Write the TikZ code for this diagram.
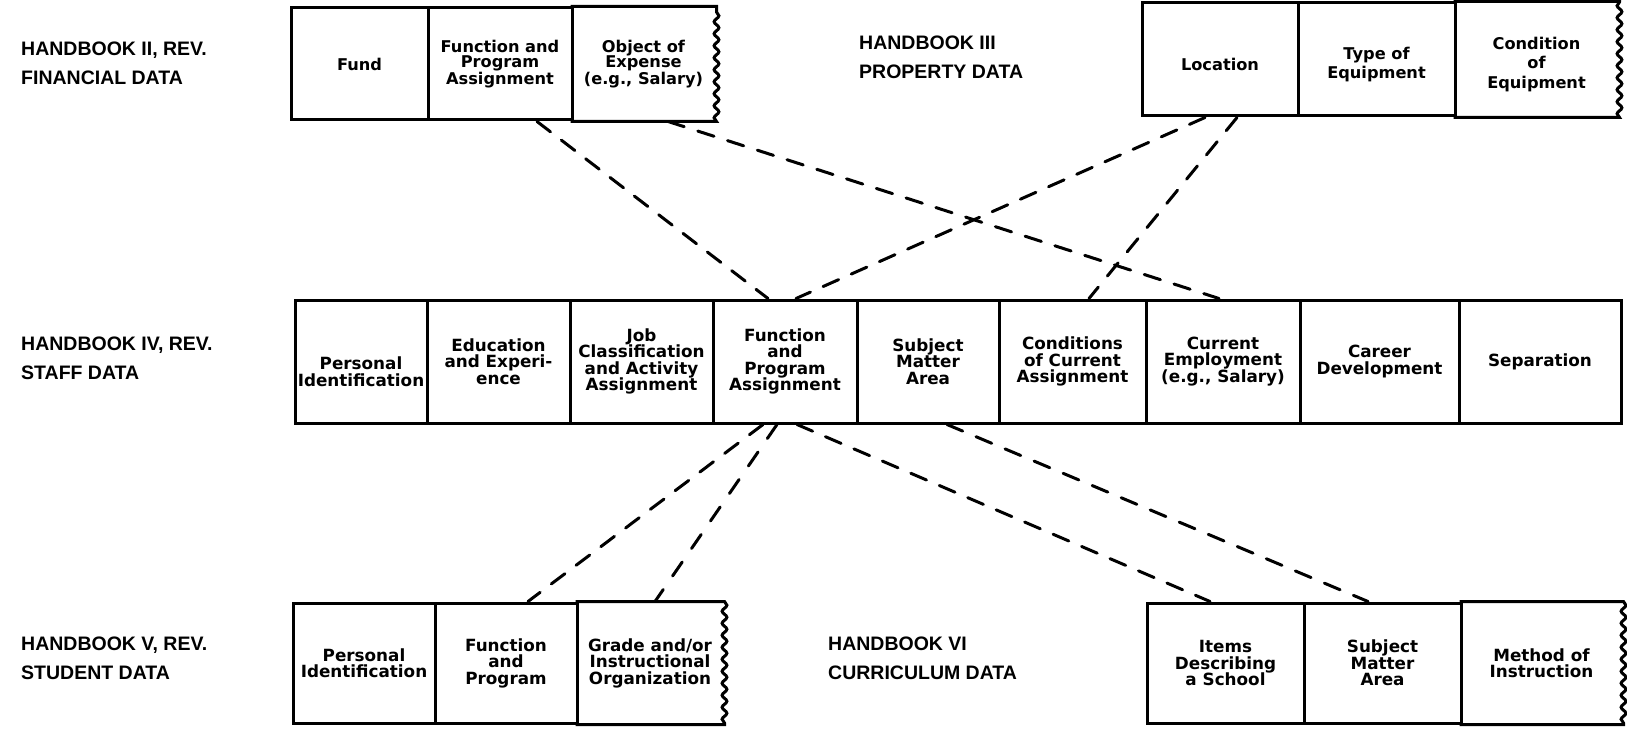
\documentclass[tikz,border=0pt]{standalone}
\usepackage{fontspec}
\setmainfont{DejaVu Sans}
\newfontfamily\labfont{Liberation Sans}
\usetikzlibrary{decorations.pathmorphing}
\newcommand\cellfontA{\bfseries\fontsize{16.2}{15.5}\selectfont}
\newcommand\cellfontC{\bfseries\fontsize{16.2}{19.5}\selectfont}
\newcommand\cellfontB{\bfseries\fontsize{16.8}{16.5}\selectfont}
\tikzset{
  cellbox/.style={draw, line width=3pt, inner sep=0pt, align=center},
  topcell/.style={cellbox, font=\cellfontA},
  midcell/.style={cellbox, font=\cellfontB},
  opencell/.style={draw=none},
  celltext/.style={inner sep=0pt, align=center},
  lab/.style={anchor=west, align=left, inner sep=0pt, font=\labfont\bfseries\fontsize{19.5}{29}\selectfont},
  link/.style={line width=3pt, line cap=round, dash pattern=on 17pt off #1pt},
  edge/.style={line width=3pt},
  wavy/.style={decorate, decoration={snake, amplitude=2.4pt, segment length=12pt}}
}
\begin{document}
\begin{tikzpicture}[x=1pt,y=-1pt]
\useasboundingbox[fill=white] (0,0) rectangle (1627,730);

% labels
\node[lab] (lab2) at (21,63.5) {HANDBOOK II, REV.\\FINANCIAL DATA};
\node[lab] (lab3) at (859,57) {HANDBOOK III\\PROPERTY DATA};
\node[lab] (lab4) at (21,358) {HANDBOOK IV, REV.\\STAFF DATA};
\node[lab] (lab5) at (21,658.5) {HANDBOOK V, REV.\\STUDENT DATA};
\node[lab] (lab6) at (828,658.5) {HANDBOOK VI\\CURRICULUM DATA};

% top-left row (financial)
\node[topcell, minimum width=137pt, minimum height=112pt] (tfund) at (359.5,64) {Fund};
\node[topcell, minimum width=144pt, minimum height=112pt] (tfp) at (500,64) {Function and\\Program\\Assignment};
\node[topcell, opencell, minimum width=143pt, minimum height=112pt] (tobj) at (643.5,64) {Object of\\Expense\\(e.g., Salary)};
\draw[edge] (tobj.south west) -- (tobj.south east) decorate[wavy]{-- (tobj.north east)} -- (tobj.north west);

% top-right row (property)
\node[topcell, minimum width=156pt, minimum height=113pt] (tloc) at (1220,59.5) {};
\node[topcell, minimum width=157pt, minimum height=113pt] (ttype) at (1376.5,59.5) {};
\node[topcell, opencell, minimum width=163pt, minimum height=113pt] (tcond) at (1536.5,59.5) {};
\draw[edge] (tcond.south west) -- (tcond.south east) decorate[wavy]{-- (tcond.north east)} -- (tcond.north west);
\node[celltext, font=\cellfontC] (tloct) at ([yshift=-5pt]tloc.center) {Location};
\node[celltext, font=\cellfontC] (ttypet) at ([yshift=-5pt]ttype.center) {Type of\\Equipment};
\node[celltext, font=\cellfontC] (tcondt) at ([yshift=-5pt]tcond.center) {Condition\\of\\Equipment};

% middle row (staff)
\node[midcell, minimum width=132pt, minimum height=123pt] (mpid) at (361,361.5) {};
\node[celltext, font=\cellfontB] (mpidt) at ([yshift=-10pt]mpid.center) {Personal\\Identification};
\node[midcell, minimum width=143pt, minimum height=123pt] (medu) at (498.5,361.5) {Education\\and Experi-\\ence};
\node[midcell, minimum width=143pt, minimum height=123pt] (mjob) at (641.5,361.5) {Job\\Classification\\and Activity\\Assignment};
\node[midcell, minimum width=144pt, minimum height=123pt] (mfp) at (785,361.5) {Function\\and\\Program\\Assignment};
\node[midcell, minimum width=142pt, minimum height=123pt] (msub) at (928,361.5) {Subject\\Matter\\Area};
\node[midcell, minimum width=147pt, minimum height=123pt] (mcond) at (1072.5,361.5) {Conditions\\of Current\\Assignment};
\node[midcell, minimum width=154pt, minimum height=123pt] (mcur) at (1223,361.5) {Current\\Employment\\(e.g., Salary)};
\node[midcell, minimum width=159pt, minimum height=123pt] (mcar) at (1379.5,361.5) {Career\\Development};
\node[midcell, minimum width=162pt, minimum height=123pt] (msep) at (1540,361.5) {Separation};

% bottom-left row (student)
\node[midcell, minimum width=142pt, minimum height=120pt] (bpid) at (364,663) {Personal\\Identification};
\node[midcell, minimum width=142pt, minimum height=120pt] (bfp) at (506,663) {Function\\and\\Program};
\node[midcell, opencell, minimum width=146pt, minimum height=120pt] (bgrade) at (650,663) {Grade and/or\\Instructional\\Organization};
\draw[edge] (bgrade.north west) -- (bgrade.north east) decorate[wavy]{-- (bgrade.south east)} -- (bgrade.south west);

% bottom-right row (curriculum)
\node[midcell, minimum width=157pt, minimum height=120pt] (bitems) at (1225.5,663) {Items\\Describing\\a School};
\node[midcell, minimum width=157pt, minimum height=120pt] (bsub) at (1382.5,663) {Subject\\Matter\\Area};
\node[midcell, opencell, minimum width=161pt, minimum height=120pt] (bmeth) at (1541.5,663) {Method of\\Instruction};
\draw[edge] (bmeth.north west) -- (bmeth.north east) decorate[wavy]{-- (bmeth.south east)} -- (bmeth.south west);

% dashed connectors
\draw[link=13.66] ([xshift=37pt]tfp.south) -- ([xshift=-17pt]mfp.north);
\draw[link=14.26] ([xshift=24.5pt]tobj.south) -- ([xshift=-4pt]mcur.north);
\draw[link=13.82] ([xshift=-15pt]tloc.south) -- ([xshift=11pt]mfp.north);
\draw[link=14.3] ([xshift=17pt]tloc.south) -- ([xshift=16.5pt]mcond.north);
\draw[link=14.0] ([xshift=-22pt]mfp.south) -- ([xshift=22pt]bfp.north);
\draw[link=16.4] ([xshift=-8pt]mfp.south) -- ([xshift=5pt]bgrade.north);
\draw[link=13.96] ([xshift=12pt]mfp.south) -- ([xshift=-15.5pt]bitems.north);
\draw[link=14.49] ([xshift=19pt]msub.south) -- ([xshift=-14.5pt]bsub.north);
\end{tikzpicture}
\end{document}
